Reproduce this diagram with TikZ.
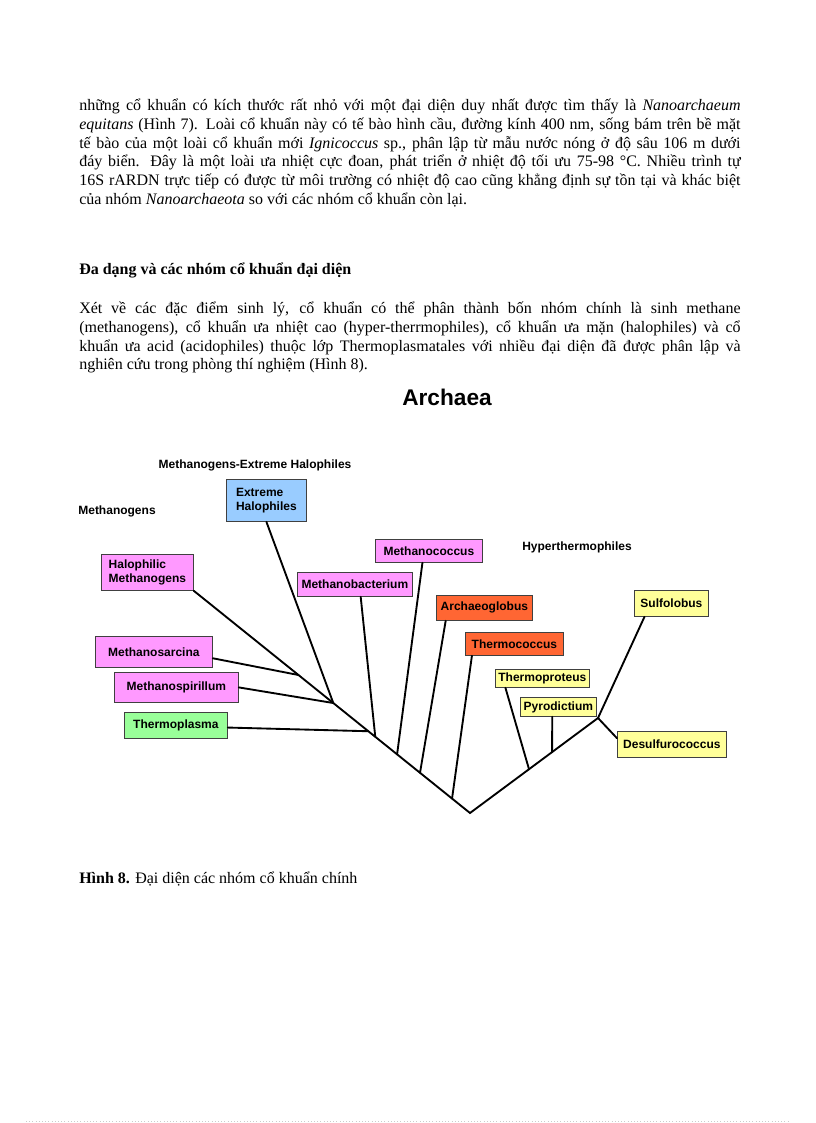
\documentclass[tikz,border=0pt]{standalone}
\usepackage{fontspec}
\setmainfont{Liberation Serif}
\newfontfamily\arialfont{Liberation Sans}
\usetikzlibrary{positioning, calc}

\definecolor{methpink}{HTML}{FF99FF}
\definecolor{haloblue}{HTML}{99CCFF}
\definecolor{hotorange}{HTML}{FF6633}
\definecolor{crenyellow}{HTML}{FFFF99}
\definecolor{plasmagreen}{HTML}{99FF99}

\begin{document}
\begin{tikzpicture}[x=0.75pt, y=-0.75pt,
    para/.style={inner sep=0pt, anchor=north west, text width=496pt, align=justify,
        font=\fontsize{12}{14}\selectfont},
    grp/.style={inner sep=0pt, font=\arialfont\bfseries\fontsize{9}{11}\selectfont},
    taxon/.style={draw=black!75, line width=0.6pt, anchor=north west, inner sep=0pt, align=left,
        font=\arialfont\bfseries\fontsize{9}{10.5}\selectfont},
    methbox/.style={taxon, fill=methpink},
    halobox/.style={taxon, fill=haloblue},
    hotbox/.style={taxon, fill=hotorange},
    crenbox/.style={taxon, fill=crenyellow},
    plasmabox/.style={taxon, fill=plasmagreen},
    branch/.style={line width=1.4pt, line cap=round}
]
    \useasboundingbox (0,0) rectangle (816,1123);

    % text above the figure
    \node[para] (p1) at (79,99) {những cổ khuẩn có kích thước rất nhỏ với một đại diện duy nhất được tìm thấy là \textit{Nanoarchaeum}\linebreak
        \textit{equitans} (Hình 7). Loài cổ khuẩn này có tế bào hình cầu, đường kính 400 nm, sống bám trên bề mặt\linebreak
        tế bào của một loài cổ khuẩn mới \textit{Ignicoccus} sp., phân lập từ mẫu nước nóng ở độ sâu 106 m dưới\linebreak
        đáy biển. Đây là một loài ưa nhiệt cực đoan, phát triển ở nhiệt độ tối ưu 75-98 °C. Nhiều trình tự\linebreak
        16S rARDN trực tiếp có được từ môi trường có nhiệt độ cao cũng khẳng định sự tồn tại và khác biệt\linebreak
        của nhóm \textit{Nanoarchaeota} so với các nhóm cổ khuẩn còn lại.};
    \node[inner sep=0pt, anchor=base west, font=\fontsize{12}{14}\selectfont\bfseries] (head) at (79,274)
        {Đa dạng và các nhóm cổ khuẩn đại diện};
    \node[para] (p2) at (79,302) {Xét về các đặc điểm sinh lý, cổ khuẩn có thể phân thành bốn nhóm chính là sinh methane\linebreak
        (methanogens), cổ khuẩn ưa nhiệt cao (hyper-therrmophiles), cổ khuẩn ưa mặn (halophiles) và cổ\linebreak
        khuẩn ưa acid (acidophiles) thuộc lớp Thermoplasmatales với nhiều đại diện đã được phân lập và\linebreak
        nghiên cứu trong phòng thí nghiệm (Hình 8).};

    % tree
    \node[inner sep=0pt, font=\arialfont\bfseries\fontsize{17}{20}\selectfont] (title) at (447,397) {Archaea};
    \node[grp] (mehal) at (255,465) {Methanogens-Extreme Halophiles};
    \node[grp] (meth) at (117,511) {Methanogens};
    \node[grp] (hyper) at (577,547) {Hyperthermophiles};

    \node[halobox, minimum width=60pt, minimum height=31.5pt] (eh) at (226,479) {Extreme\\Halophiles};
    \node[methbox, minimum width=69pt, minimum height=27pt] (hm) at (101,554) {Halophilic\\Methanogens};
    \node[methbox, minimum width=86.25pt, minimum height=18pt] (mb) at (297,572) {Methanobacterium};
    \node[methbox, minimum width=80.25pt, minimum height=17.25pt] (mc) at (375,539) {Methanococcus};
    \node[hotbox, minimum width=72pt, minimum height=18.75pt] (ag) at (436,595) {Archaeoglobus};
    \node[hotbox, minimum width=73.5pt, minimum height=17.25pt] (tc) at (465,632) {Thermococcus};
    \node[crenbox, minimum width=55.5pt, minimum height=19.5pt] (sf) at (634,590) {Sulfolobus};
    \node[crenbox, minimum width=70.5pt, minimum height=13.5pt] (tpr) at (495,669) {Thermoproteus};
    \node[crenbox, minimum width=57pt, minimum height=14.25pt] (pd) at (520,697) {Pyrodictium};
    \node[crenbox, minimum width=81.75pt, minimum height=19.5pt] (ds) at (617,731) {Desulfurococcus};
    \node[methbox, minimum width=87.75pt, minimum height=23.25pt] (ms) at (95,636) {Methanosarcina};
    \node[methbox, minimum width=93pt, minimum height=22.5pt] (msp) at (114,672) {Methanospirillum};
    \node[plasmabox, minimum width=77.25pt, minimum height=19.5pt] (tp) at (124,712) {Thermoplasma};

    \coordinate (root) at (470,813);
    \coordinate (fork) at (598,718);
    \coordinate (j1) at ($(root)!0.621!(hm.south east)$);
    \coordinate (j2) at ($(root)!0.495!(hm.south east)$);
    \coordinate (j3) at ($(root)!0.368!(hm.south east)$);
    \coordinate (j4) at ($(root)!0.343!(hm.south east)$);
    \coordinate (j5) at ($(root)!0.264!(hm.south east)$);
    \coordinate (j6) at ($(root)!0.181!(hm.south east)$);
    \coordinate (j7) at ($(root)!0.065!(hm.south east)$);
    \coordinate (k1) at ($(root)!0.461!(fork)$);
    \coordinate (k2) at ($(root)!0.641!(fork)$);

    \draw[branch] (hm.south east) -- (root) -- (fork);
    \draw[branch] (eh.south) -- (j2);
    \draw[branch] ($(ms.north east)!0.7!(ms.south east)$) -- (j1);
    \draw[branch] (msp.east) -- (j2);
    \draw[branch] ($(tp.north east)!0.58!(tp.south east)$) -- (j3);
    \draw[branch] ($(mb.south west)!0.55!(mb.south east)$) -- (j4);
    \draw[branch] ($(mc.south west)!0.44!(mc.south east)$) -- (j5);
    \draw[branch] ($(ag.south west)!0.1!(ag.south east)$) -- (j6);
    \draw[branch] ($(tc.south west)!0.07!(tc.south east)$) -- (j7);
    \draw[branch] ($(tpr.south west)!0.11!(tpr.south east)$) -- (k1);
    \draw[branch] ($(pd.south west)!0.42!(pd.south east)$) -- (k2);
    \draw[branch] (fork) -- ($(sf.south west)!0.14!(sf.south east)$);
    \draw[branch] (fork) -- ($(ds.north west)!0.27!(ds.south west)$);

    \node[inner sep=0pt, anchor=base west, font=\fontsize{12}{14}\selectfont] (cap) at (79,883)
        {\textbf{Hình 8.} Đại diện các nhóm cổ khuẩn chính};

    \draw[dotted, gray!40] (26,1121) -- (790,1121);
\end{tikzpicture}
\end{document}
